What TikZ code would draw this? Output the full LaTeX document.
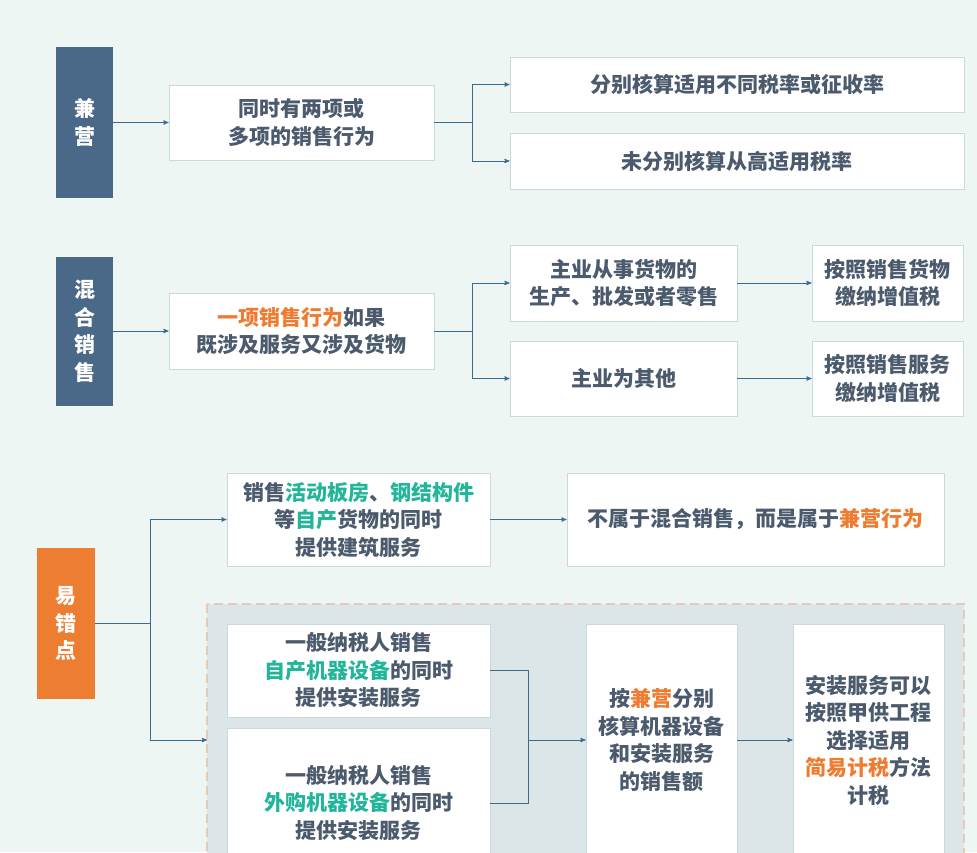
\documentclass[tikz,border=0pt]{standalone}
\usepackage{fontspec}
\newfontfamily\cjk{Noto Sans CJK SC}
\usepackage{tikz}
\usetikzlibrary{arrows}

\definecolor{bgmint}{HTML}{EEF6F4}
\definecolor{tagblue}{HTML}{4A6888}
\definecolor{tagorange}{HTML}{ED7D31}
\definecolor{txtslate}{HTML}{4B5B6D}
\definecolor{hlorange}{HTML}{EE7B30}
\definecolor{hlgreen}{HTML}{23B59A}
\definecolor{boxline}{HTML}{CBD8DD}
\definecolor{linkblue}{HTML}{3D6B8C}
\definecolor{zonefill}{HTML}{DCE6E9}
\definecolor{zoneline}{HTML}{E3CBB6}

\newcommand\hlo[1]{\textcolor{hlorange}{#1}}
\newcommand\hlg[1]{\textcolor{hlgreen}{#1}}

\begin{document}
\begin{tikzpicture}[x=1pt,y=-1pt,>=stealth',color=linkblue,line width=0.9pt,
                    tag node/.style={rectangle,fill=tagblue,draw=none,text=white,align=center,
                      font=\cjk\bfseries\fontsize{21}{27.5}\selectfont},
                    main node/.style={rectangle,fill=white,draw=boxline,line width=0.8pt,text=txtslate,
                      align=center,inner sep=0pt,font=\cjk\bfseries\fontsize{21}{27.5}\selectfont}]

    \useasboundingbox (0,0) rectangle (977,852);
    \clip (0,0) rectangle (977,852);
    \fill[bgmint] (0,0) rectangle (977,852);

    % zone behind the equipment case
    \draw[fill=zonefill,draw=zoneline,dash pattern=on 9pt off 5pt,line width=1.2pt]
        (207,604) rectangle (964,870);

    % left tags
    \node[tag node,minimum width=57,minimum height=151] (jy) at (84.5,122.5) {兼\\营};
    \node[tag node,minimum width=57,minimum height=149] (hh) at (84.5,331) {混\\合\\销\\售};
    \node[tag node,fill=tagorange,minimum width=58,minimum height=151] (ycd) at (66,623.5) {易\\错\\点};

    % first row
    \node[main node,minimum width=265,minimum height=75] (two) at (301.5,122.5) {同时有两项或\\多项的销售行为};
    \node[main node,minimum width=454,minimum height=55] (sep) at (737,84.5) {分别核算适用不同税率或征收率};
    \node[main node,minimum width=454,minimum height=56] (high) at (737,161) {未分别核算从高适用税率};
    \coordinate (j1) at (472,122.5);

    % second row
    \node[main node,minimum width=265,minimum height=76] (one) at (301.5,331) {\hlo{一项销售行为}如果\\既涉及服务又涉及货物};
    \node[main node,minimum width=227,minimum height=76] (goods) at (623.5,283) {主业从事货物的\\生产、批发或者零售};
    \node[main node,minimum width=227,minimum height=75] (other) at (623.5,378.5) {主业为其他};
    \node[main node,minimum width=151,minimum height=76] (taxg) at (887.5,283) {按照销售货物\\缴纳增值税};
    \node[main node,minimum width=151,minimum height=75] (taxs) at (887.5,378.5) {按照销售服务\\缴纳增值税};
    \coordinate (j2) at (472,331);

    % third row
    \node[main node,minimum width=263,minimum height=93] (board) at (358.5,519.5)
        {销售\hlg{活动板房}、\hlg{钢结构件}\\等\hlg{自产}货物的同时\\提供建筑服务};
    \node[main node,minimum width=377,minimum height=93] (notmix) at (755.5,519.5)
        {不属于混合销售，而是属于\hlo{兼营行为}};
    \node[main node,minimum width=263,minimum height=93] (own) at (358.5,670.5)
        {一般纳税人销售\\\hlg{自产机器设备}的同时\\提供安装服务};
    \node[main node,minimum width=263,minimum height=150] (bought) at (358.5,803)
        {一般纳税人销售\\\hlg{外购机器设备}的同时\\提供安装服务};
    \node[main node,minimum width=151,minimum height=232] (acct) at (661.5,740)
        {按\hlo{兼营}分别\\核算机器设备\\和安装服务\\的销售额};
    \node[main node,minimum width=151,minimum height=232] (simple) at (868.5,740)
        {安装服务可以\\按照甲供工程\\选择适用\\\hlo{简易计税}方法\\计税};
    \coordinate (j3) at (150,623.5);
    \coordinate (zone) at (207,740);
    \coordinate (j4) at (528,740);

    \path[->] (jy) edge (two)
          (hh) edge (one)
          (goods) edge (taxg)
          (other) edge (taxs)
          (board) edge (notmix)
          (acct) edge (simple);

    \draw (two.east) -- (j1);
    \draw[->] (j1) |- (sep.west);
    \draw[->] (j1) |- (high.west);

    \draw (one.east) -- (j2);
    \draw[->] (j2) |- (goods.west);
    \draw[->] (j2) |- (other.west);

    \draw (ycd.east) -- (j3);
    \draw[->] (j3) |- (board.west);
    \draw[->] (j3) |- (zone);

    \draw (own.east) -| (j4);
    \draw (bought.east) -| (j4);
    \draw[->] (j4) -- (acct.west);
\end{tikzpicture}
\end{document}
